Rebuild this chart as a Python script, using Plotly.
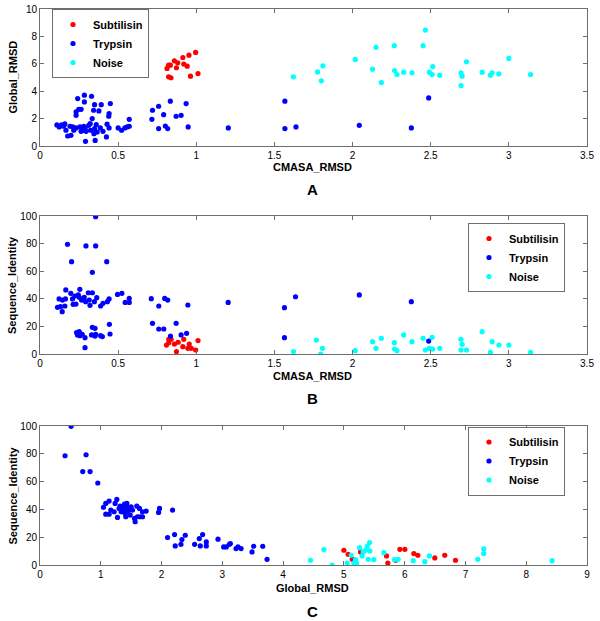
import plotly.graph_objects as go

# ---------------- Panel A: CMASA_RMSD vs Global_RMSD ----------------
a_sub_x = [0.813, 0.823, 0.834, 0.823, 0.838, 0.86, 0.873, 0.881, 0.914, 0.92, 0.942, 0.953, 0.963, 0.996, 1.011]
a_sub_y = [5.66, 5.9, 5.9, 5.05, 4.98, 6.22, 5.71, 6.07, 6.46, 5.98, 5.83, 6.63, 5.1, 6.83, 5.29]

a_try_x = [0.108, 0.123, 0.138, 0.151, 0.159, 0.166, 0.177, 0.192, 0.198, 0.209, 0.216, 0.231, 0.231, 0.231,
           0.241, 0.248, 0.256, 0.263, 0.263, 0.274, 0.28, 0.284, 0.284, 0.291, 0.289, 0.295, 0.312, 0.321,
           0.323, 0.33, 0.334, 0.343, 0.345, 0.349, 0.349, 0.353, 0.36, 0.366, 0.377, 0.386, 0.392, 0.403,
           0.425, 0.429, 0.44, 0.442, 0.442, 0.45, 0.5, 0.522, 0.543, 0.558, 0.571, 0.571,
           0.716, 0.72, 0.759, 0.759, 0.791, 0.802, 0.817, 0.834, 0.871, 0.903, 0.935, 0.948,
           1.205, 1.567, 1.567, 1.638, 2.043, 2.376, 2.487]
a_try_y = [1.54, 1.39, 1.54, 1.44, 1.61, 1.15, 0.73, 1.44, 0.78, 1.39, 1.15, 1.32, 2.24, 2.49,
           3.46, 2.68, 1.39, 2.68, 1.07, 1.15, 1.44, 3.71, 3.22, 0.34, 1.32, 1.07, 1.51, 1.63,
           1.15, 3.63, 2.0, 2.61, 0.9, 1.27, 3.02, 0.41, 1.56, 1.02, 2.56, 1.32, 3.02, 1.07,
           0.66, 1.59, 2.17, 2.37, 1.32, 3.1, 1.32, 1.15, 1.32, 1.39, 1.44, 1.95,
           1.95, 2.61, 2.9, 1.27, 2.29, 1.46, 1.27, 3.27, 2.17, 2.24, 3.1, 1.39,
           1.32, 3.27, 1.27, 1.39, 1.51, 1.32, 3.51]

a_noi_x = [1.621, 1.776, 1.8, 1.81, 2.017, 2.128, 2.15, 2.184, 2.267, 2.269, 2.284, 2.327, 2.38, 2.451,
           2.466, 2.491, 2.509, 2.513, 2.558, 2.694, 2.701, 2.694, 2.729, 2.829, 2.882, 2.893, 2.936, 3.0, 3.139]
a_noi_y = [5.05, 5.41, 4.76, 5.85, 6.32, 5.61, 7.2, 4.63, 7.32, 5.51, 5.22, 5.39, 5.34, 7.32,
           8.46, 5.39, 5.22, 5.8, 5.17, 5.34, 5.1, 4.41, 6.15, 5.39, 5.17, 5.34, 5.27, 6.39, 5.22]

# ---------------- Panel B: CMASA_RMSD vs Sequence_Identity ----------------
b_sub_x = [0.809, 0.824, 0.824, 0.839, 0.86, 0.873, 0.884, 0.914, 0.92, 0.946, 0.955, 0.968, 0.996, 1.011]
b_sub_y = [6.5, 8.2, 10.6, 10.6, 7.2, 1.7, 8.5, 5.3, 10.6, 4.1, 7.2, 4.1, 2.9, 9.7]

b_try_x = [0.356, 0.176, 0.294, 0.356, 0.202, 0.427, 0.335,
           0.165, 0.197, 0.208, 0.223, 0.245, 0.255, 0.251, 0.23, 0.212, 0.283, 0.309, 0.335, 0.315,
           0.32, 0.348, 0.363, 0.266, 0.292, 0.122, 0.144, 0.163, 0.112, 0.131, 0.142, 0.159, 0.388,
           0.403, 0.431, 0.442, 0.496, 0.524, 0.545, 0.571, 0.571,
           0.234, 0.251, 0.24, 0.255, 0.27, 0.288, 0.335, 0.352, 0.33, 0.352, 0.356, 0.388, 0.399,
           0.444, 0.448, 0.288,
           0.712, 0.76, 0.798, 0.817, 0.946, 0.72, 0.76, 0.792, 0.871, 0.835, 0.903, 0.938,
           1.204, 1.564, 1.635, 1.564, 2.043, 2.376, 2.487]
b_try_y = [99.5, 79.5, 78.3, 78.3, 66.9, 66.9, 59.2,
           46.4, 44.0, 39.9, 42.0, 42.8, 46.9, 41.1, 36.2, 36.0, 41.1, 44.4, 44.4, 39.1,
           35.3, 37.9, 40.8, 39.1, 37.9, 39.9, 39.1, 39.9, 33.8, 34.3, 30.7, 34.8, 34.8,
           36.7, 37.9, 39.9, 43.2, 44.0, 37.4, 40.3, 37.4,
           15.5, 16.2, 13.8, 13.3, 14.3, 11.8, 19.3, 18.6, 13.8, 13.0, 14.3, 13.3, 12.6,
           21.5, 14.5, 4.6,
           40.1, 34.8, 40.3, 39.1, 35.5, 22.2, 18.1, 18.1, 22.2, 13.0, 13.8, 15.0,
           37.4, 33.6, 41.5, 11.8, 42.8, 37.9, 9.4]

b_noi_x = [1.622, 1.768, 1.807, 1.796, 2.017, 2.128, 2.15, 2.184, 2.267, 2.269, 2.284, 2.327, 2.38,
           2.451, 2.466, 2.491, 2.509, 2.513, 2.558, 2.694, 2.701, 2.694, 2.729, 2.829, 2.882, 2.893,
           2.936, 3.0, 3.139]
b_noi_y = [1.7, 10.1, 4.1, 0.0, 2.4, 8.9, 4.1, 11.4, 8.2, 3.6, 2.4, 13.8, 8.9,
           11.4, 2.9, 4.1, 12.1, 3.6, 4.1, 10.6, 7.0, 2.9, 2.9, 16.2, 1.2, 8.9,
           6.5, 6.5, 1.2]

# ---------------- Panel C: Global_RMSD vs Sequence_Identity ----------------
c_sub_x = [5.0, 5.071, 5.137, 5.274, 5.701, 5.723, 5.849, 5.921, 6.003, 6.151, 6.216, 6.496, 6.66, 6.836]
c_sub_y = [10.6, 7.7, 4.1, 9.4, 6.5, 1.4, 3.4, 11.3, 11.3, 8.2, 7.0, 5.1, 7.0, 3.4]

c_try_x = [0.511, 0.412, 0.758, 0.703, 0.824, 0.951,
           1.044, 1.082, 1.137, 1.082, 1.137, 1.165, 1.22, 1.236, 1.264, 1.275, 1.302, 1.319, 1.335,
           1.363, 1.374, 1.39, 1.401, 1.412, 1.429, 1.44, 1.412, 1.456, 1.467, 1.484, 1.5, 1.522,
           1.555, 1.566, 1.593, 1.604, 1.637, 1.648, 1.687, 1.687, 1.747, 1.951, 1.967, 2.181,
           2.099, 2.214, 2.225, 2.319, 2.335, 2.39, 2.544, 2.621, 2.637, 2.676, 2.736, 2.736,
           2.929, 3.022, 3.066, 3.115, 3.132, 3.225, 3.258, 3.308, 3.489, 3.516, 3.665, 3.736]
c_try_y = [99.8, 78.6, 79.3, 67.2, 67.2, 59.0,
           41.4, 44.3, 46.0, 36.6, 36.6, 39.5, 38.3, 44.3, 47.2, 34.2, 40.7, 42.4, 38.3,
           41.9, 39.5, 43.9, 37.1, 40.7, 44.3, 38.3, 34.7, 41.4, 39.5, 35.9, 41.9, 39.5,
           33.5, 31.1, 42.4, 34.7, 40.7, 34.7, 38.3, 34.7, 38.8, 37.8, 40.7, 39.5,
           19.8, 21.9, 13.7, 14.9, 18.3, 21.4, 14.9, 19.0, 13.7, 21.9, 16.6, 13.7,
           18.6, 13.0, 13.0, 14.9, 15.4, 11.8, 13.0, 11.8, 9.4, 13.5, 13.5, 4.1]

c_noi_x = [4.451, 4.67, 4.808, 5.055, 5.121, 5.164, 5.192, 5.208, 5.258, 5.301, 5.318, 5.356, 5.384,
           5.4, 5.422, 5.427, 5.493, 5.658, 5.833, 5.893, 6.14, 6.332, 6.408, 7.203, 7.301, 7.301, 8.425]
c_noi_y = [3.4, 11.1, 0.0, 1.4, 7.0, 1.4, 3.9, 1.4, 12.5, 6.5, 9.4, 10.6, 13.5,
           4.1, 16.1, 10.1, 3.9, 8.9, 3.9, 4.1, 3.1, 2.4, 6.5, 4.1, 8.2, 11.6, 3.1]

group_names = ["Subtilisin", "Trypsin", "Noise"]
group_colors = ["#ff0000", "#0000ff", "#00ffff"]

panels = [
    ((a_sub_x, a_sub_y), (a_try_x, a_try_y), (a_noi_x, a_noi_y)),
    ((b_sub_x, b_sub_y), (b_try_x, b_try_y), (b_noi_x, b_noi_y)),
    ((c_sub_x, c_sub_y), (c_try_x, c_try_y), (c_noi_x, c_noi_y)),
]

W, H = 600, 621
FONT = "Liberation Sans, Arial, sans-serif"
AXC = "#6e6e6e"

def py(px):
    return 1 - px / H

# pixel extents of plot areas (top, bottom)
boxes = [(9, 146), (216, 354), (426, 565)]
x_dom = [40 / W, 587 / W]

fig = go.Figure()
legend_ids = ["legend", "legend2", "legend3"]
for pi, groups in enumerate(panels):
    xa = "x" if pi == 0 else f"x{pi+1}"
    ya = "y" if pi == 0 else f"y{pi+1}"
    for gi, (gx, gy) in enumerate(groups):
        fig.add_trace(go.Scatter(
            x=gx, y=gy, mode="markers", name=group_names[gi],
            marker=dict(color=group_colors[gi], size=5.2, line=dict(width=0)),
            xaxis=xa, yaxis=ya, legend=legend_ids[pi], showlegend=True,
        ))

axis_common = dict(
    showgrid=False, zeroline=False, showline=True, linecolor=AXC, linewidth=1,
    mirror="ticks", ticks="inside", ticklen=4, tickcolor=AXC, automargin=False,
    tickfont=dict(family=FONT, size=10, color="black"),
)

x_ranges = [[0, 3.5], [0, 3.5], [0, 9]]
x_dticks = [0.5, 0.5, 1]
y_ranges = [[0, 10], [0, 100], [0, 100]]
y_dticks = [2, 20, 20]

layout = dict(
    width=W, height=H, margin=dict(l=0, r=0, t=0, b=0, autoexpand=False),
    paper_bgcolor="white", plot_bgcolor="white", showlegend=True,
    font=dict(family=FONT, color="black"),
)
for pi in range(3):
    top, bot = boxes[pi]
    xk = "xaxis" if pi == 0 else f"xaxis{pi+1}"
    yk = "yaxis" if pi == 0 else f"yaxis{pi+1}"
    yanchor = "y" if pi == 0 else f"y{pi+1}"
    xanchor = "x" if pi == 0 else f"x{pi+1}"
    layout[xk] = dict(axis_common, domain=x_dom, range=x_ranges[pi], dtick=x_dticks[pi],
                      tick0=0, anchor=yanchor)
    layout[yk] = dict(axis_common, domain=[py(bot), py(top)], range=y_ranges[pi],
                      dtick=y_dticks[pi], tick0=0, anchor=xanchor)

leg_common = dict(
    bgcolor="white", bordercolor="#6e6e6e", borderwidth=1,
    font=dict(family=FONT, size=11, color="black", weight="bold"),
    xanchor="left", yanchor="middle", xref="paper", yref="paper",
    itemsizing="trace", tracegroupgap=0, itemwidth=30,
)
layout["legend"] = dict(leg_common, x=52 / W, y=py(43.5))
layout["legend2"] = dict(leg_common, x=468 / W, y=py(257.5))
layout["legend3"] = dict(leg_common, x=468 / W, y=py(461))

fig.update_layout(**layout)

x_titles = ["CMASA_RMSD", "CMASA_RMSD", "Global_RMSD"]
y_titles = ["Global_RMSD", "Sequence_Identity", "Sequence_Identity"]
letters = ["A", "B", "C"]
xt_y = [167, 376, 588]
let_y = [189, 398, 611]
for pi in range(3):
    top, bot = boxes[pi]
    fig.add_annotation(text=f"<b>{x_titles[pi]}</b>", x=313 / W, y=py(xt_y[pi]), xref="paper", yref="paper",
                       showarrow=False, font=dict(family=FONT, size=11, color="black"),
                       xanchor="center", yanchor="middle")
    fig.add_annotation(text=f"<b>{letters[pi]}</b>", x=313 / W, y=py(let_y[pi]), xref="paper", yref="paper",
                       showarrow=False, font=dict(family=FONT, size=15, color="black"),
                       xanchor="center", yanchor="middle")
    fig.add_annotation(text=f"<b>{y_titles[pi]}</b>", x=12 / W, y=py((top + bot) / 2), xref="paper",
                       yref="paper", showarrow=False, textangle=-90,
                       font=dict(family=FONT, size=11, color="black"),
                       xanchor="center", yanchor="middle")

fig.write_html("out.html", config={"displayModeBar": False},
               post_script="document.body.style.margin='0';document.body.style.overflow='hidden';")
